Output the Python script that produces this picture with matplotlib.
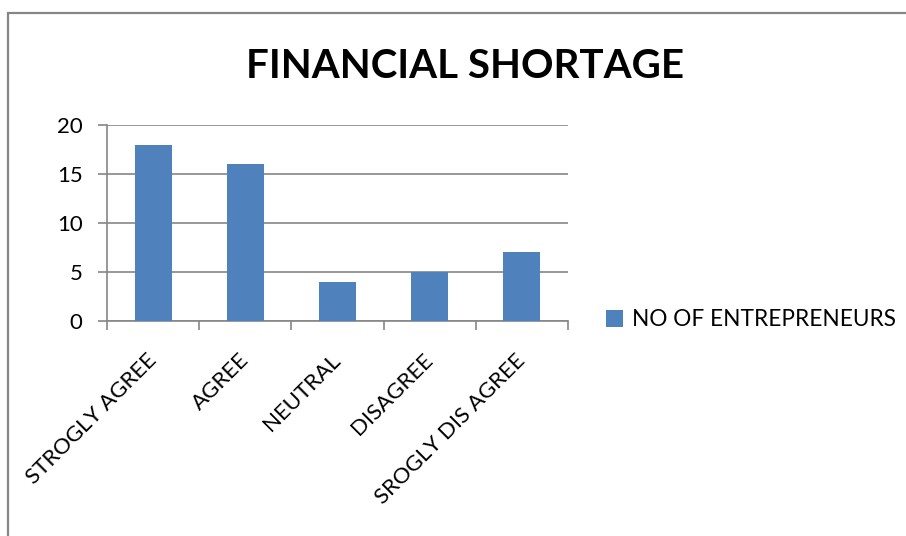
import matplotlib
matplotlib.use("Agg")
import matplotlib.pyplot as plt
from matplotlib.patches import Rectangle

categories = ["STROGLY AGREE", "AGREE", "NEUTRAL", "DISAGREE", "SROGLY DIS AGREE"]
entrepreneurs = [18, 16, 4, 5, 7]
series_name = "NO OF ENTREPRENEURS"
title = "FINANCIAL SHORTAGE"
y_ticks = [0, 5, 10, 15, 20]

W, H = 906, 536
plt.rcParams["font.family"] = ["Lato", "DejaVu Sans"]
fig = plt.figure(figsize=(W / 100, H / 100), dpi=100)
fig.patch.set_facecolor("white")

gray = "#868686"
bar_color = "#4F81BD"

# chart frame
fig.add_artist(Rectangle((8 / W, -0.1), 1.2, 1 - 13 / H + 0.1, transform=fig.transFigure,
                         fill=False, edgecolor=gray, linewidth=1.6))

ax = fig.add_axes([107 / W, 1 - 321 / H, (568 - 107) / W, (321 - 125) / H])
x = list(range(len(categories)))
bars = ax.bar(x, entrepreneurs, width=0.4, color=bar_color, label=series_name, zorder=3)
ax.set_xlim(-0.5, len(categories) - 0.5)
ax.set_ylim(0, 20)
ax.set_yticks(y_ticks)
ax.set_yticklabels([str(v) for v in y_ticks], fontsize=16)
ax.yaxis.grid(True, color=gray, linewidth=1.2, zorder=0)
ax.set_xticks([i - 0.5 for i in range(len(categories) + 1)])
ax.set_xticklabels([])
ax.tick_params(axis="x", direction="out", length=6.5, width=1.2, color=gray)
ax.tick_params(axis="y", direction="out", length=6.5, width=1.2, color=gray, pad=11)
for s in ["top", "right"]:
    ax.spines[s].set_visible(False)
for s in ["left", "bottom"]:
    ax.spines[s].set_color(gray)
    ax.spines[s].set_linewidth(1.2)

for i, c in enumerate(categories):
    ax.annotate(c, xy=(i, 0), xycoords="data", xytext=(-7, -29), textcoords="offset pixels",
                rotation=45, rotation_mode="anchor", ha="right", va="top", fontsize=16)

fig.text(464.5 / W, 1 - 78 / H, title, ha="center", va="baseline", fontsize=29, fontweight="bold")

fig.legend(handles=[bars], labels=[series_name], loc="center left",
           bbox_to_anchor=(606 / W, 1 - 320 / H), bbox_transform=fig.transFigure,
           frameon=False, fontsize=16.3, handlelength=0.75, handleheight=0.75,
           handletextpad=0.4, borderpad=0, borderaxespad=0)

fig.savefig("out.png", dpi=100)
